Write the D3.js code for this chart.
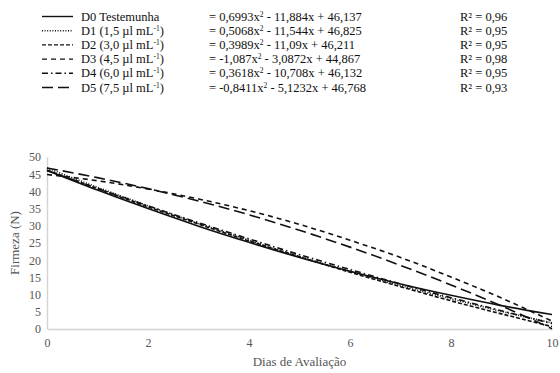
<!DOCTYPE html>
<html>
<head>
<meta charset="utf-8">
<script src="https://d3js.org/d3.v7.min.js"></script>
</head>
<body style="margin:0; background:#fff; font-family:'Times New Roman', serif">
<svg id="chart" width="560" height="373" style="font-family:'Times New Roman', serif"></svg>
<script>
// dias de avaliacao
const days = [0, 1, 2, 3, 4, 5, 6, 7, 8, 9, 10]

// firmeza (N)
const d0 = [46.1, 40.4, 35.0, 29.9, 25.2, 20.8, 16.8, 13.1, 9.8, 6.8, 4.2]
const d1 = [46.8, 41.2, 35.8, 30.7, 25.8, 21.1, 16.8, 12.6, 8.8, 5.1, 1.8]
const d2 = [46.2, 40.8, 35.5, 30.5, 25.6, 21.0, 16.5, 12.3, 8.2, 4.4, 0.7]
const d3v = [44.9, 43.1, 40.7, 37.8, 34.4, 30.4, 25.8, 20.8, 15.1, 9.0, 2.3]
const d4 = [46.1, 40.9, 35.8, 30.9, 26.2, 21.6, 17.3, 13.1, 9.1, 5.3, 1.6]
const d5 = [46.8, 44.0, 40.8, 37.2, 33.2, 28.7, 23.8, 18.5, 12.8, 6.7, 0.1]

const labels = ['D0 Testemunha', 'D1 (1,5 µl mL', 'D2 (3,0 µl mL', 'D3 (4,5 µl mL', 'D4 (6,0 µl mL', 'D5 (7,5 µl mL']
const eqA = ['0,6993', '0,5068', '0,3989', '-1,087', '0,3618', '-0,8411']
const eqB = ['- 11,884x + 46,137', '- 11,544x + 46,825', '- 11,09x + 46,211', '- 3,0872x + 44,867', '- 10,708x + 46,132', '- 5,1232x + 46,768']
const r2 = ['0,96', '0,95', '0,95', '0,98', '0,95', '0,93']
const dashes = [null, '1,1.6', '4,2', '5,4', '6,3,1.5,3', '11,5']

const yTicks = [0, 5, 10, 15, 20, 25, 30, 35, 40, 45, 50]
const xTicks = [0, 2, 4, 6, 8, 10]

const series = [d0, d1, d2, d3v, d4, d5]

const serif = 'Times New Roman'
const svg = d3.select('#chart')

const marginLeft = 47, marginRight = 8, marginTop = 157, marginBottom = 44
const width = 560, height = 373

const x = d3.scaleLinear([0, 10], [marginLeft, width - marginRight])
const y = d3.scaleLinear([0, 50], [height - marginBottom, marginTop])

// axes
svg.append('g')
   .attr('transform', `translate(0,${height - marginBottom})`)
   .call(d3.axisBottom(x).tickValues(xTicks).tickSize(0).tickPadding(9))
   .attr('font-family', serif)
   .call(g => g.select('.domain').attr('stroke', '#d4d4d4').attr('stroke-width', 1.5))
   .call(g => g.selectAll('text').attr('font-size', 12).attr('fill', '#555'))

svg.append('g')
   .attr('transform', `translate(${marginLeft},0)`)
   .call(d3.axisLeft(y).tickValues(yTicks).tickSize(0).tickPadding(6))
   .attr('font-family', serif)
   .call(g => g.select('.domain').attr('stroke', '#d4d4d4').attr('stroke-width', 1.5))
   .call(g => g.selectAll('text').attr('font-size', 12).attr('fill', '#555'))

svg.append('text')
   .attr('x', (x(0) + x(10)) / 2)
   .attr('y', 366)
   .attr('text-anchor', 'middle')
   .attr('font-size', 13)
   .attr('fill', '#555')
   .text('Dias de Avaliação')

svg.append('text')
   .attr('transform', `translate(19,${(y(0) + y(50)) / 2}) rotate(-90)`)
   .attr('text-anchor', 'middle')
   .attr('font-size', 13)
   .attr('fill', '#555')
   .text('Firmeza (N)')

// curves
const line = d3.line()
               .curve(d3.curveMonotoneX)
               .x((d, i) => x(days[i]))
               .y(d => y(d))

svg.append('g')
   .attr('fill', 'none')
   .attr('stroke', '#111')
   .attr('stroke-width', 1.6)
 .selectAll('path')
 .data(series)
 .join('path')
   .attr('d', d => line(d))
   .attr('stroke-dasharray', (d, i) => dashes[i])

// legend
const rowY = i => 16.5 + i * 14.2
const leg = svg.append('g').attr('font-size', 12.5).attr('fill', '#111')

leg.selectAll('line')
   .data(labels)
   .join('line')
   .attr('x1', 42).attr('x2', 73)
   .attr('y1', (d, i) => rowY(i)).attr('y2', (d, i) => rowY(i))
   .attr('stroke', '#111')
   .attr('stroke-width', 1.4)
   .attr('stroke-dasharray', (d, i) => dashes[i])

leg.selectAll('text.lab')
   .data(labels)
   .join('text')
   .attr('class', 'lab')
   .attr('x', 81)
   .attr('y', (d, i) => rowY(i) + 4)
   .each(function (d, i) {
       const t = d3.select(this)
       t.append('tspan').text(d)
       if (i > 0) {
           t.append('tspan').attr('font-size', 7.5).attr('dy', -4).text('-1')
           t.append('tspan').attr('dy', 4).text(')')
       }
   })

leg.selectAll('text.eq')
   .data(eqA)
   .join('text')
   .attr('class', 'eq')
   .attr('x', 209)
   .attr('y', (d, i) => rowY(i) + 4)
   .each(function (d, i) {
       const t = d3.select(this)
       t.append('tspan').text('= ' + d + 'x')
       t.append('tspan').attr('font-size', 7.5).attr('dy', -4).text('2')
       t.append('tspan').attr('dy', 4).text(' ' + eqB[i])
   })

leg.selectAll('text.r2')
   .data(r2)
   .join('text')
   .attr('class', 'r2')
   .attr('x', 460)
   .attr('y', (d, i) => rowY(i) + 4)
   .text(d => 'R² = ' + d)

svg.selectAll('text').attr('font-family', serif)
</script>
</body>
</html>
